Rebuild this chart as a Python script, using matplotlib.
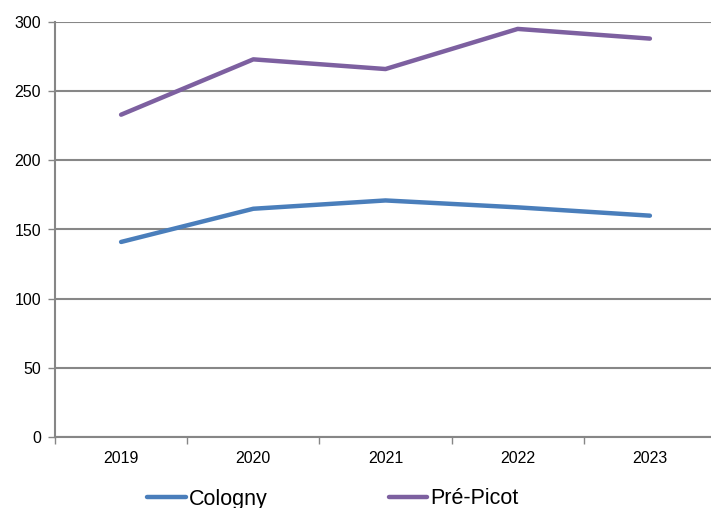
import matplotlib
matplotlib.use("Agg")
import matplotlib.pyplot as plt
from matplotlib.ticker import FixedLocator

years = ["2019", "2020", "2021", "2022", "2023"]
cologny = [141, 165, 171, 166, 160]
pre_picot = [233, 273, 266, 295, 288]
series_names = ["Cologny", "Pré-Picot"]

plt.rcParams['font.family'] = ['Liberation Sans', 'DejaVu Sans']

fig = plt.figure(figsize=(7.11, 5.08), dpi=100)
ax = fig.add_axes([55/711, 1-437/508, 661/711, 415/508])

x = list(range(len(years)))
l1, = ax.plot(x, cologny, color='#4A7EBB', lw=3.2, solid_capstyle='round', label=series_names[0])
l2, = ax.plot(x, pre_picot, color='#7D60A0', lw=3.2, solid_capstyle='round', label=series_names[1])

ax.set_xlim(-0.5, len(years) - 0.5)
ax.set_ylim(0, 300)
ax.set_yticks(range(0, 301, 50))
ax.set_xticks(x)
ax.set_xticklabels(years)
ax.xaxis.set_minor_locator(FixedLocator([i + 0.5 for i in range(-1, len(years))]))
ax.tick_params(axis='x', which='major', length=0, pad=10, labelsize=11.5)
ax.tick_params(axis='x', which='minor', length=5, color='#868686', width=1)
ax.tick_params(axis='y', length=5, color='#868686', width=1, pad=5, labelsize=11.5)

ax.yaxis.grid(True, color='#878787', lw=1.5)
ax.set_axisbelow(True)
for s in ['top', 'right']:
    ax.spines[s].set_visible(False)
for s in ['left', 'bottom']:
    ax.spines[s].set_color('#868686')
    ax.spines[s].set_linewidth(1.5)

fig.legend(handles=[l1, l2], loc='center', bbox_to_anchor=(333/711, 1-499/508),
           ncol=2, frameon=False, fontsize=15.5, handlelength=1.8,
           handletextpad=0.15, columnspacing=5.6)

fig.savefig("out.png", dpi=100)
